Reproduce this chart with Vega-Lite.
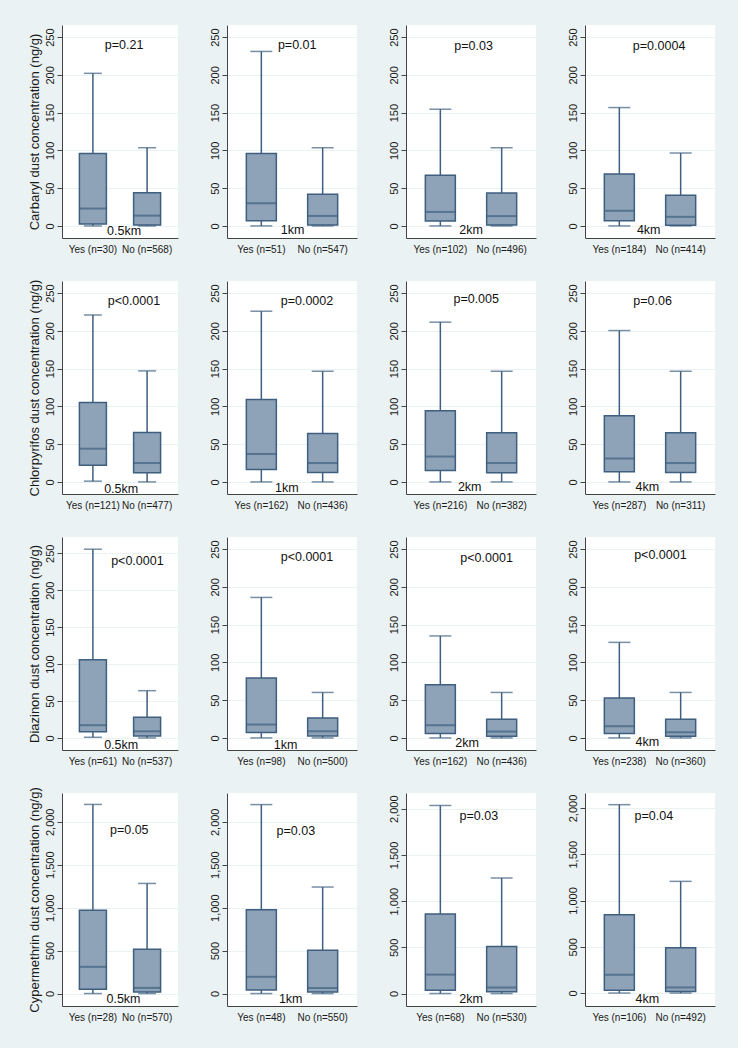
{
"$schema": "https://vega.github.io/schema/vega-lite/v6.json",
"background": "#eaf2f3",
"padding": {"left": 27, "top": 25, "right": 24, "bottom": 26},
"config": {
 "view": {"stroke": null, "fill": "white"},
 "font": "Liberation Sans",
 "axis": {"labelFont": "Liberation Sans", "labelFontSize": 11, "labelColor": "#1a1a1a", "titleFont": "Liberation Sans", "titleFontSize": 13, "titleFontWeight": "normal", "titleColor": "#1a1a1a", "domainColor": "#444444", "tickColor": "#444444", "gridColor": "#eaf2f3", "gridWidth": 1},
 "axisY": {"labelAngle": -90, "labelAlign": "center", "labelBaseline": "bottom", "tickSize": 5, "labelPadding": 2, "grid": true, "titlePadding": 3},
 "axisX": {"ticks": false, "grid": false, "labelAngle": 0, "labelPadding": 6, "labelFontSize": 10}
},
"datasets": {
 "boxes": [
  {"r": "Carbaryl", "d": "0.5km", "g": "Yes (n=30)", "low": 0, "q1": 2.6, "med": 23, "q3": 96, "high": 202},
  {"r": "Carbaryl", "d": "0.5km", "g": "No (n=568)", "low": 0, "q1": 1.3, "med": 13.6, "q3": 44, "high": 103.5},
  {"r": "Carbaryl", "d": "1km", "g": "Yes (n=51)", "low": 0, "q1": 7, "med": 30, "q3": 96, "high": 231},
  {"r": "Carbaryl", "d": "1km", "g": "No (n=547)", "low": 0, "q1": 1.3, "med": 13.2, "q3": 42, "high": 103.5},
  {"r": "Carbaryl", "d": "2km", "g": "Yes (n=102)", "low": 0, "q1": 6.6, "med": 18.5, "q3": 67, "high": 154.5},
  {"r": "Carbaryl", "d": "2km", "g": "No (n=496)", "low": 0, "q1": 1.3, "med": 13, "q3": 43.6, "high": 103.5},
  {"r": "Carbaryl", "d": "4km", "g": "Yes (n=184)", "low": 0, "q1": 7, "med": 20, "q3": 68.7, "high": 156.7},
  {"r": "Carbaryl", "d": "4km", "g": "No (n=414)", "low": 0, "q1": 0.9, "med": 12, "q3": 40.5, "high": 96.5},
  {"r": "Chlorpyrifos", "d": "0.5km", "g": "Yes (n=121)", "low": 1, "q1": 22, "med": 44, "q3": 105, "high": 221},
  {"r": "Chlorpyrifos", "d": "0.5km", "g": "No (n=477)", "low": 0, "q1": 12, "med": 25, "q3": 65.5, "high": 147},
  {"r": "Chlorpyrifos", "d": "1km", "g": "Yes (n=162)", "low": 0, "q1": 16.4, "med": 37, "q3": 109, "high": 226},
  {"r": "Chlorpyrifos", "d": "1km", "g": "No (n=436)", "low": 0, "q1": 12.4, "med": 25, "q3": 64.2, "high": 146.5},
  {"r": "Chlorpyrifos", "d": "2km", "g": "Yes (n=216)", "low": 0, "q1": 15, "med": 33.6, "q3": 94.2, "high": 211.5},
  {"r": "Chlorpyrifos", "d": "2km", "g": "No (n=382)", "low": 0, "q1": 12, "med": 25, "q3": 65, "high": 146.5},
  {"r": "Chlorpyrifos", "d": "4km", "g": "Yes (n=287)", "low": 0, "q1": 13.3, "med": 31, "q3": 87.6, "high": 200.4},
  {"r": "Chlorpyrifos", "d": "4km", "g": "No (n=311)", "low": 0, "q1": 12.4, "med": 25, "q3": 65, "high": 146.5},
  {"r": "Diazinon", "d": "0.5km", "g": "Yes (n=61)", "low": 0.9, "q1": 8.3, "med": 17.3, "q3": 106, "high": 255.5},
  {"r": "Diazinon", "d": "0.5km", "g": "No (n=537)", "low": 0, "q1": 2.7, "med": 9, "q3": 28, "high": 64},
  {"r": "Diazinon", "d": "1km", "g": "Yes (n=98)", "low": 0, "q1": 7.1, "med": 17.7, "q3": 79.2, "high": 186},
  {"r": "Diazinon", "d": "1km", "g": "No (n=500)", "low": 0, "q1": 2.7, "med": 8.8, "q3": 26.5, "high": 60.2},
  {"r": "Diazinon", "d": "2km", "g": "Yes (n=162)", "low": 0, "q1": 5.8, "med": 16.8, "q3": 70.4, "high": 135},
  {"r": "Diazinon", "d": "2km", "g": "No (n=436)", "low": 0, "q1": 2.2, "med": 8.4, "q3": 24.8, "high": 60.2},
  {"r": "Diazinon", "d": "4km", "g": "Yes (n=238)", "low": 0, "q1": 5.8, "med": 15.5, "q3": 52.7, "high": 126.5},
  {"r": "Diazinon", "d": "4km", "g": "No (n=360)", "low": 0, "q1": 2.2, "med": 7.5, "q3": 24.8, "high": 60.2},
  {"r": "Cypermethrin", "d": "0.5km", "g": "Yes (n=28)", "low": 0, "q1": 50, "med": 311, "q3": 971, "high": 2202},
  {"r": "Cypermethrin", "d": "0.5km", "g": "No (n=570)", "low": 0, "q1": 19, "med": 66, "q3": 516, "high": 1282},
  {"r": "Cypermethrin", "d": "1km", "g": "Yes (n=48)", "low": 0, "q1": 40, "med": 195, "q3": 975, "high": 2200},
  {"r": "Cypermethrin", "d": "1km", "g": "No (n=550)", "low": 0, "q1": 18, "med": 65, "q3": 505, "high": 1240},
  {"r": "Cypermethrin", "d": "2km", "g": "Yes (n=68)", "low": 0, "q1": 35, "med": 205, "q3": 860, "high": 2035},
  {"r": "Cypermethrin", "d": "2km", "g": "No (n=530)", "low": 0, "q1": 18, "med": 65, "q3": 510, "high": 1250},
  {"r": "Cypermethrin", "d": "4km", "g": "Yes (n=106)", "low": 0, "q1": 29, "med": 198, "q3": 847, "high": 2036},
  {"r": "Cypermethrin", "d": "4km", "g": "No (n=492)", "low": 0, "q1": 18, "med": 61, "q3": 490, "high": 1207}
 ],
 "notes": [
  {"r": "Carbaryl", "d": "0.5km", "t": "p=0.21", "xf": 0.535, "yv": 239},
  {"r": "Carbaryl", "d": "0.5km", "t": "0.5km", "xf": 0.535, "yv": -6.6},
  {"r": "Carbaryl", "d": "1km", "t": "p=0.01", "xf": 0.54, "yv": 239},
  {"r": "Carbaryl", "d": "1km", "t": "1km", "xf": 0.505, "yv": -5.3},
  {"r": "Carbaryl", "d": "2km", "t": "p=0.03", "xf": 0.52, "yv": 238},
  {"r": "Carbaryl", "d": "2km", "t": "2km", "xf": 0.5, "yv": -6},
  {"r": "Carbaryl", "d": "4km", "t": "p=0.0004", "xf": 0.57, "yv": 237.7},
  {"r": "Carbaryl", "d": "4km", "t": "4km", "xf": 0.49, "yv": -5.3},
  {"r": "Chlorpyrifos", "d": "0.5km", "t": "p<0.0001", "xf": 0.62, "yv": 239},
  {"r": "Chlorpyrifos", "d": "0.5km", "t": "0.5km", "xf": 0.51, "yv": -8.8},
  {"r": "Chlorpyrifos", "d": "1km", "t": "p=0.0002", "xf": 0.615, "yv": 240},
  {"r": "Chlorpyrifos", "d": "1km", "t": "1km", "xf": 0.46, "yv": -8},
  {"r": "Chlorpyrifos", "d": "2km", "t": "p=0.005", "xf": 0.54, "yv": 242},
  {"r": "Chlorpyrifos", "d": "2km", "t": "2km", "xf": 0.49, "yv": -7},
  {"r": "Chlorpyrifos", "d": "4km", "t": "p=0.06", "xf": 0.52, "yv": 240},
  {"r": "Chlorpyrifos", "d": "4km", "t": "4km", "xf": 0.48, "yv": -7},
  {"r": "Diazinon", "d": "0.5km", "t": "p<0.0001", "xf": 0.65, "yv": 240},
  {"r": "Diazinon", "d": "0.5km", "t": "0.5km", "xf": 0.51, "yv": -9.5},
  {"r": "Diazinon", "d": "1km", "t": "p<0.0001", "xf": 0.615, "yv": 240},
  {"r": "Diazinon", "d": "1km", "t": "1km", "xf": 0.45, "yv": -10},
  {"r": "Diazinon", "d": "2km", "t": "p<0.0001", "xf": 0.62, "yv": 237.6},
  {"r": "Diazinon", "d": "2km", "t": "2km", "xf": 0.47, "yv": -6.6},
  {"r": "Diazinon", "d": "4km", "t": "p<0.0001", "xf": 0.58, "yv": 242},
  {"r": "Diazinon", "d": "4km", "t": "4km", "xf": 0.48, "yv": -5.8},
  {"r": "Cypermethrin", "d": "0.5km", "t": "p=0.05", "xf": 0.58, "yv": 1903},
  {"r": "Cypermethrin", "d": "0.5km", "t": "0.5km", "xf": 0.53, "yv": -58},
  {"r": "Cypermethrin", "d": "1km", "t": "p=0.03", "xf": 0.53, "yv": 1888},
  {"r": "Cypermethrin", "d": "1km", "t": "1km", "xf": 0.49, "yv": -60},
  {"r": "Cypermethrin", "d": "2km", "t": "p=0.03", "xf": 0.56, "yv": 1925},
  {"r": "Cypermethrin", "d": "2km", "t": "2km", "xf": 0.5, "yv": -60},
  {"r": "Cypermethrin", "d": "4km", "t": "p=0.04", "xf": 0.53, "yv": 1910},
  {"r": "Cypermethrin", "d": "4km", "t": "4km", "xf": 0.48, "yv": -61}
 ]
},
"columns": 4,
"spacing": {"row": 43, "column": 49},
"bounds": "flush",
"concat": [
 {"width": 116, "height": 213, "resolve": {"scale": {"x": "independent"}}, "layer": [
  {"data": {"name": "boxes"}, "transform": [{"filter": "datum.r=='Carbaryl' && datum.d=='0.5km'"}],
   "encoding": {"x": {"field": "g", "type": "nominal", "sort": "descending", "title": null, "scale": {"paddingInner": 0, "paddingOuter": 0.07}}},
   "layer": [
    {"mark": {"type": "rule", "color": "#3e5f7f", "strokeWidth": 1.5}, "encoding": {"y": {"field": "low", "type": "quantitative", "title": "Carbaryl dust concentration (ng/g)", "scale": {"domain": [-16, 266], "nice": false, "zero": false}, "axis": {"values": [0, 50, 100, 150, 200, 250]}}, "y2": {"field": "high"}}},
    {"mark": {"type": "bar", "width": 27, "fill": "#8ea3b8", "stroke": "#3e5f7f", "strokeWidth": 1.5}, "encoding": {"y": {"field": "q1", "type": "quantitative", "title": "Carbaryl dust concentration (ng/g)"}, "y2": {"field": "q3"}}},
    {"mark": {"type": "tick", "size": 27, "thickness": 2, "color": "#3e5f7f"}, "encoding": {"y": {"field": "med", "type": "quantitative", "title": "Carbaryl dust concentration (ng/g)"}}},
    {"mark": {"type": "tick", "size": 18, "thickness": 1.5, "color": "#3e5f7f"}, "encoding": {"y": {"field": "low", "type": "quantitative", "title": "Carbaryl dust concentration (ng/g)"}}},
    {"mark": {"type": "tick", "size": 18, "thickness": 1.5, "color": "#3e5f7f"}, "encoding": {"y": {"field": "high", "type": "quantitative", "title": "Carbaryl dust concentration (ng/g)"}}}
   ]},
  {"data": {"name": "notes"}, "transform": [{"filter": "datum.r=='Carbaryl' && datum.d=='0.5km'"}],
   "mark": {"type": "text", "fontSize": 12.5, "font": "Liberation Sans", "color": "#111111"},
   "encoding": {"x": {"field": "xf", "type": "quantitative", "scale": {"domain": [0, 1], "nice": false, "zero": false}, "axis": null}, "y": {"field": "yv", "type": "quantitative", "title": "Carbaryl dust concentration (ng/g)"}, "text": {"field": "t"}}}
 ]},
 {"width": 130, "height": 213, "resolve": {"scale": {"x": "independent"}}, "layer": [
  {"data": {"name": "boxes"}, "transform": [{"filter": "datum.r=='Carbaryl' && datum.d=='1km'"}],
   "encoding": {"x": {"field": "g", "type": "nominal", "sort": "descending", "title": null, "scale": {"paddingInner": 0, "paddingOuter": 0.06}}},
   "layer": [
    {"mark": {"type": "rule", "color": "#3e5f7f", "strokeWidth": 1.5}, "encoding": {"y": {"field": "low", "type": "quantitative", "title": null, "scale": {"domain": [-16, 266], "nice": false, "zero": false}, "axis": {"values": [0, 50, 100, 150, 200, 250]}}, "y2": {"field": "high"}}},
    {"mark": {"type": "bar", "width": 30, "fill": "#8ea3b8", "stroke": "#3e5f7f", "strokeWidth": 1.5}, "encoding": {"y": {"field": "q1", "type": "quantitative", "title": null}, "y2": {"field": "q3"}}},
    {"mark": {"type": "tick", "size": 30, "thickness": 2, "color": "#3e5f7f"}, "encoding": {"y": {"field": "med", "type": "quantitative", "title": null}}},
    {"mark": {"type": "tick", "size": 22, "thickness": 1.5, "color": "#3e5f7f"}, "encoding": {"y": {"field": "low", "type": "quantitative", "title": null}}},
    {"mark": {"type": "tick", "size": 22, "thickness": 1.5, "color": "#3e5f7f"}, "encoding": {"y": {"field": "high", "type": "quantitative", "title": null}}}
   ]},
  {"data": {"name": "notes"}, "transform": [{"filter": "datum.r=='Carbaryl' && datum.d=='1km'"}],
   "mark": {"type": "text", "fontSize": 12.5, "font": "Liberation Sans", "color": "#111111"},
   "encoding": {"x": {"field": "xf", "type": "quantitative", "scale": {"domain": [0, 1], "nice": false, "zero": false}, "axis": null}, "y": {"field": "yv", "type": "quantitative", "title": null}, "text": {"field": "t"}}}
 ]},
 {"width": 130, "height": 213, "resolve": {"scale": {"x": "independent"}}, "layer": [
  {"data": {"name": "boxes"}, "transform": [{"filter": "datum.r=='Carbaryl' && datum.d=='2km'"}],
   "encoding": {"x": {"field": "g", "type": "nominal", "sort": "descending", "title": null, "scale": {"paddingInner": 0, "paddingOuter": 0.06}}},
   "layer": [
    {"mark": {"type": "rule", "color": "#3e5f7f", "strokeWidth": 1.5}, "encoding": {"y": {"field": "low", "type": "quantitative", "title": null, "scale": {"domain": [-16, 266], "nice": false, "zero": false}, "axis": {"values": [0, 50, 100, 150, 200, 250]}}, "y2": {"field": "high"}}},
    {"mark": {"type": "bar", "width": 30, "fill": "#8ea3b8", "stroke": "#3e5f7f", "strokeWidth": 1.5}, "encoding": {"y": {"field": "q1", "type": "quantitative", "title": null}, "y2": {"field": "q3"}}},
    {"mark": {"type": "tick", "size": 30, "thickness": 2, "color": "#3e5f7f"}, "encoding": {"y": {"field": "med", "type": "quantitative", "title": null}}},
    {"mark": {"type": "tick", "size": 22, "thickness": 1.5, "color": "#3e5f7f"}, "encoding": {"y": {"field": "low", "type": "quantitative", "title": null}}},
    {"mark": {"type": "tick", "size": 22, "thickness": 1.5, "color": "#3e5f7f"}, "encoding": {"y": {"field": "high", "type": "quantitative", "title": null}}}
   ]},
  {"data": {"name": "notes"}, "transform": [{"filter": "datum.r=='Carbaryl' && datum.d=='2km'"}],
   "mark": {"type": "text", "fontSize": 12.5, "font": "Liberation Sans", "color": "#111111"},
   "encoding": {"x": {"field": "xf", "type": "quantitative", "scale": {"domain": [0, 1], "nice": false, "zero": false}, "axis": null}, "y": {"field": "yv", "type": "quantitative", "title": null}, "text": {"field": "t"}}}
 ]},
 {"width": 130, "height": 213, "resolve": {"scale": {"x": "independent"}}, "layer": [
  {"data": {"name": "boxes"}, "transform": [{"filter": "datum.r=='Carbaryl' && datum.d=='4km'"}],
   "encoding": {"x": {"field": "g", "type": "nominal", "sort": "descending", "title": null, "scale": {"paddingInner": 0, "paddingOuter": 0.06}}},
   "layer": [
    {"mark": {"type": "rule", "color": "#3e5f7f", "strokeWidth": 1.5}, "encoding": {"y": {"field": "low", "type": "quantitative", "title": null, "scale": {"domain": [-16, 266], "nice": false, "zero": false}, "axis": {"values": [0, 50, 100, 150, 200, 250]}}, "y2": {"field": "high"}}},
    {"mark": {"type": "bar", "width": 30, "fill": "#8ea3b8", "stroke": "#3e5f7f", "strokeWidth": 1.5}, "encoding": {"y": {"field": "q1", "type": "quantitative", "title": null}, "y2": {"field": "q3"}}},
    {"mark": {"type": "tick", "size": 30, "thickness": 2, "color": "#3e5f7f"}, "encoding": {"y": {"field": "med", "type": "quantitative", "title": null}}},
    {"mark": {"type": "tick", "size": 22, "thickness": 1.5, "color": "#3e5f7f"}, "encoding": {"y": {"field": "low", "type": "quantitative", "title": null}}},
    {"mark": {"type": "tick", "size": 22, "thickness": 1.5, "color": "#3e5f7f"}, "encoding": {"y": {"field": "high", "type": "quantitative", "title": null}}}
   ]},
  {"data": {"name": "notes"}, "transform": [{"filter": "datum.r=='Carbaryl' && datum.d=='4km'"}],
   "mark": {"type": "text", "fontSize": 12.5, "font": "Liberation Sans", "color": "#111111"},
   "encoding": {"x": {"field": "xf", "type": "quantitative", "scale": {"domain": [0, 1], "nice": false, "zero": false}, "axis": null}, "y": {"field": "yv", "type": "quantitative", "title": null}, "text": {"field": "t"}}}
 ]},

 {"width": 116, "height": 213, "resolve": {"scale": {"x": "independent"}}, "layer": [
  {"data": {"name": "boxes"}, "transform": [{"filter": "datum.r=='Chlorpyrifos' && datum.d=='0.5km'"}],
   "encoding": {"x": {"field": "g", "type": "nominal", "sort": "descending", "title": null, "scale": {"paddingInner": 0, "paddingOuter": 0.07}}},
   "layer": [
    {"mark": {"type": "rule", "color": "#3e5f7f", "strokeWidth": 1.5}, "encoding": {"y": {"field": "low", "type": "quantitative", "title": "Chlorpyrifos dust concentration (ng/g)", "scale": {"domain": [-16, 266], "nice": false, "zero": false}, "axis": {"values": [0, 50, 100, 150, 200, 250]}}, "y2": {"field": "high"}}},
    {"mark": {"type": "bar", "width": 27, "fill": "#8ea3b8", "stroke": "#3e5f7f", "strokeWidth": 1.5}, "encoding": {"y": {"field": "q1", "type": "quantitative", "title": "Chlorpyrifos dust concentration (ng/g)"}, "y2": {"field": "q3"}}},
    {"mark": {"type": "tick", "size": 27, "thickness": 2, "color": "#3e5f7f"}, "encoding": {"y": {"field": "med", "type": "quantitative", "title": "Chlorpyrifos dust concentration (ng/g)"}}},
    {"mark": {"type": "tick", "size": 18, "thickness": 1.5, "color": "#3e5f7f"}, "encoding": {"y": {"field": "low", "type": "quantitative", "title": "Chlorpyrifos dust concentration (ng/g)"}}},
    {"mark": {"type": "tick", "size": 18, "thickness": 1.5, "color": "#3e5f7f"}, "encoding": {"y": {"field": "high", "type": "quantitative", "title": "Chlorpyrifos dust concentration (ng/g)"}}}
   ]},
  {"data": {"name": "notes"}, "transform": [{"filter": "datum.r=='Chlorpyrifos' && datum.d=='0.5km'"}],
   "mark": {"type": "text", "fontSize": 12.5, "font": "Liberation Sans", "color": "#111111"},
   "encoding": {"x": {"field": "xf", "type": "quantitative", "scale": {"domain": [0, 1], "nice": false, "zero": false}, "axis": null}, "y": {"field": "yv", "type": "quantitative", "title": "Chlorpyrifos dust concentration (ng/g)"}, "text": {"field": "t"}}}
 ]},
 {"width": 130, "height": 213, "resolve": {"scale": {"x": "independent"}}, "layer": [
  {"data": {"name": "boxes"}, "transform": [{"filter": "datum.r=='Chlorpyrifos' && datum.d=='1km'"}],
   "encoding": {"x": {"field": "g", "type": "nominal", "sort": "descending", "title": null, "scale": {"paddingInner": 0, "paddingOuter": 0.06}}},
   "layer": [
    {"mark": {"type": "rule", "color": "#3e5f7f", "strokeWidth": 1.5}, "encoding": {"y": {"field": "low", "type": "quantitative", "title": null, "scale": {"domain": [-16, 266], "nice": false, "zero": false}, "axis": {"values": [0, 50, 100, 150, 200, 250]}}, "y2": {"field": "high"}}},
    {"mark": {"type": "bar", "width": 30, "fill": "#8ea3b8", "stroke": "#3e5f7f", "strokeWidth": 1.5}, "encoding": {"y": {"field": "q1", "type": "quantitative", "title": null}, "y2": {"field": "q3"}}},
    {"mark": {"type": "tick", "size": 30, "thickness": 2, "color": "#3e5f7f"}, "encoding": {"y": {"field": "med", "type": "quantitative", "title": null}}},
    {"mark": {"type": "tick", "size": 22, "thickness": 1.5, "color": "#3e5f7f"}, "encoding": {"y": {"field": "low", "type": "quantitative", "title": null}}},
    {"mark": {"type": "tick", "size": 22, "thickness": 1.5, "color": "#3e5f7f"}, "encoding": {"y": {"field": "high", "type": "quantitative", "title": null}}}
   ]},
  {"data": {"name": "notes"}, "transform": [{"filter": "datum.r=='Chlorpyrifos' && datum.d=='1km'"}],
   "mark": {"type": "text", "fontSize": 12.5, "font": "Liberation Sans", "color": "#111111"},
   "encoding": {"x": {"field": "xf", "type": "quantitative", "scale": {"domain": [0, 1], "nice": false, "zero": false}, "axis": null}, "y": {"field": "yv", "type": "quantitative", "title": null}, "text": {"field": "t"}}}
 ]},
 {"width": 130, "height": 213, "resolve": {"scale": {"x": "independent"}}, "layer": [
  {"data": {"name": "boxes"}, "transform": [{"filter": "datum.r=='Chlorpyrifos' && datum.d=='2km'"}],
   "encoding": {"x": {"field": "g", "type": "nominal", "sort": "descending", "title": null, "scale": {"paddingInner": 0, "paddingOuter": 0.06}}},
   "layer": [
    {"mark": {"type": "rule", "color": "#3e5f7f", "strokeWidth": 1.5}, "encoding": {"y": {"field": "low", "type": "quantitative", "title": null, "scale": {"domain": [-16, 266], "nice": false, "zero": false}, "axis": {"values": [0, 50, 100, 150, 200, 250]}}, "y2": {"field": "high"}}},
    {"mark": {"type": "bar", "width": 30, "fill": "#8ea3b8", "stroke": "#3e5f7f", "strokeWidth": 1.5}, "encoding": {"y": {"field": "q1", "type": "quantitative", "title": null}, "y2": {"field": "q3"}}},
    {"mark": {"type": "tick", "size": 30, "thickness": 2, "color": "#3e5f7f"}, "encoding": {"y": {"field": "med", "type": "quantitative", "title": null}}},
    {"mark": {"type": "tick", "size": 22, "thickness": 1.5, "color": "#3e5f7f"}, "encoding": {"y": {"field": "low", "type": "quantitative", "title": null}}},
    {"mark": {"type": "tick", "size": 22, "thickness": 1.5, "color": "#3e5f7f"}, "encoding": {"y": {"field": "high", "type": "quantitative", "title": null}}}
   ]},
  {"data": {"name": "notes"}, "transform": [{"filter": "datum.r=='Chlorpyrifos' && datum.d=='2km'"}],
   "mark": {"type": "text", "fontSize": 12.5, "font": "Liberation Sans", "color": "#111111"},
   "encoding": {"x": {"field": "xf", "type": "quantitative", "scale": {"domain": [0, 1], "nice": false, "zero": false}, "axis": null}, "y": {"field": "yv", "type": "quantitative", "title": null}, "text": {"field": "t"}}}
 ]},
 {"width": 130, "height": 213, "resolve": {"scale": {"x": "independent"}}, "layer": [
  {"data": {"name": "boxes"}, "transform": [{"filter": "datum.r=='Chlorpyrifos' && datum.d=='4km'"}],
   "encoding": {"x": {"field": "g", "type": "nominal", "sort": "descending", "title": null, "scale": {"paddingInner": 0, "paddingOuter": 0.06}}},
   "layer": [
    {"mark": {"type": "rule", "color": "#3e5f7f", "strokeWidth": 1.5}, "encoding": {"y": {"field": "low", "type": "quantitative", "title": null, "scale": {"domain": [-16, 266], "nice": false, "zero": false}, "axis": {"values": [0, 50, 100, 150, 200, 250]}}, "y2": {"field": "high"}}},
    {"mark": {"type": "bar", "width": 30, "fill": "#8ea3b8", "stroke": "#3e5f7f", "strokeWidth": 1.5}, "encoding": {"y": {"field": "q1", "type": "quantitative", "title": null}, "y2": {"field": "q3"}}},
    {"mark": {"type": "tick", "size": 30, "thickness": 2, "color": "#3e5f7f"}, "encoding": {"y": {"field": "med", "type": "quantitative", "title": null}}},
    {"mark": {"type": "tick", "size": 22, "thickness": 1.5, "color": "#3e5f7f"}, "encoding": {"y": {"field": "low", "type": "quantitative", "title": null}}},
    {"mark": {"type": "tick", "size": 22, "thickness": 1.5, "color": "#3e5f7f"}, "encoding": {"y": {"field": "high", "type": "quantitative", "title": null}}}
   ]},
  {"data": {"name": "notes"}, "transform": [{"filter": "datum.r=='Chlorpyrifos' && datum.d=='4km'"}],
   "mark": {"type": "text", "fontSize": 12.5, "font": "Liberation Sans", "color": "#111111"},
   "encoding": {"x": {"field": "xf", "type": "quantitative", "scale": {"domain": [0, 1], "nice": false, "zero": false}, "axis": null}, "y": {"field": "yv", "type": "quantitative", "title": null}, "text": {"field": "t"}}}
 ]},

 {"width": 116, "height": 213, "resolve": {"scale": {"x": "independent"}}, "layer": [
  {"data": {"name": "boxes"}, "transform": [{"filter": "datum.r=='Diazinon' && datum.d=='0.5km'"}],
   "encoding": {"x": {"field": "g", "type": "nominal", "sort": "descending", "title": null, "scale": {"paddingInner": 0, "paddingOuter": 0.07}}},
   "layer": [
    {"mark": {"type": "rule", "color": "#3e5f7f", "strokeWidth": 1.5}, "encoding": {"y": {"field": "low", "type": "quantitative", "title": "Diazinon dust concentration (ng/g)", "scale": {"domain": [-16.3, 272], "nice": false, "zero": false}, "axis": {"values": [0, 50, 100, 150, 200, 250]}}, "y2": {"field": "high"}}},
    {"mark": {"type": "bar", "width": 27, "fill": "#8ea3b8", "stroke": "#3e5f7f", "strokeWidth": 1.5}, "encoding": {"y": {"field": "q1", "type": "quantitative", "title": "Diazinon dust concentration (ng/g)"}, "y2": {"field": "q3"}}},
    {"mark": {"type": "tick", "size": 27, "thickness": 2, "color": "#3e5f7f"}, "encoding": {"y": {"field": "med", "type": "quantitative", "title": "Diazinon dust concentration (ng/g)"}}},
    {"mark": {"type": "tick", "size": 18, "thickness": 1.5, "color": "#3e5f7f"}, "encoding": {"y": {"field": "low", "type": "quantitative", "title": "Diazinon dust concentration (ng/g)"}}},
    {"mark": {"type": "tick", "size": 18, "thickness": 1.5, "color": "#3e5f7f"}, "encoding": {"y": {"field": "high", "type": "quantitative", "title": "Diazinon dust concentration (ng/g)"}}}
   ]},
  {"data": {"name": "notes"}, "transform": [{"filter": "datum.r=='Diazinon' && datum.d=='0.5km'"}],
   "mark": {"type": "text", "fontSize": 12.5, "font": "Liberation Sans", "color": "#111111"},
   "encoding": {"x": {"field": "xf", "type": "quantitative", "scale": {"domain": [0, 1], "nice": false, "zero": false}, "axis": null}, "y": {"field": "yv", "type": "quantitative", "title": "Diazinon dust concentration (ng/g)"}, "text": {"field": "t"}}}
 ]},
 {"width": 130, "height": 213, "resolve": {"scale": {"x": "independent"}}, "layer": [
  {"data": {"name": "boxes"}, "transform": [{"filter": "datum.r=='Diazinon' && datum.d=='1km'"}],
   "encoding": {"x": {"field": "g", "type": "nominal", "sort": "descending", "title": null, "scale": {"paddingInner": 0, "paddingOuter": 0.06}}},
   "layer": [
    {"mark": {"type": "rule", "color": "#3e5f7f", "strokeWidth": 1.5}, "encoding": {"y": {"field": "low", "type": "quantitative", "title": null, "scale": {"domain": [-16, 266], "nice": false, "zero": false}, "axis": {"values": [0, 50, 100, 150, 200, 250]}}, "y2": {"field": "high"}}},
    {"mark": {"type": "bar", "width": 30, "fill": "#8ea3b8", "stroke": "#3e5f7f", "strokeWidth": 1.5}, "encoding": {"y": {"field": "q1", "type": "quantitative", "title": null}, "y2": {"field": "q3"}}},
    {"mark": {"type": "tick", "size": 30, "thickness": 2, "color": "#3e5f7f"}, "encoding": {"y": {"field": "med", "type": "quantitative", "title": null}}},
    {"mark": {"type": "tick", "size": 22, "thickness": 1.5, "color": "#3e5f7f"}, "encoding": {"y": {"field": "low", "type": "quantitative", "title": null}}},
    {"mark": {"type": "tick", "size": 22, "thickness": 1.5, "color": "#3e5f7f"}, "encoding": {"y": {"field": "high", "type": "quantitative", "title": null}}}
   ]},
  {"data": {"name": "notes"}, "transform": [{"filter": "datum.r=='Diazinon' && datum.d=='1km'"}],
   "mark": {"type": "text", "fontSize": 12.5, "font": "Liberation Sans", "color": "#111111"},
   "encoding": {"x": {"field": "xf", "type": "quantitative", "scale": {"domain": [0, 1], "nice": false, "zero": false}, "axis": null}, "y": {"field": "yv", "type": "quantitative", "title": null}, "text": {"field": "t"}}}
 ]},
 {"width": 130, "height": 213, "resolve": {"scale": {"x": "independent"}}, "layer": [
  {"data": {"name": "boxes"}, "transform": [{"filter": "datum.r=='Diazinon' && datum.d=='2km'"}],
   "encoding": {"x": {"field": "g", "type": "nominal", "sort": "descending", "title": null, "scale": {"paddingInner": 0, "paddingOuter": 0.06}}},
   "layer": [
    {"mark": {"type": "rule", "color": "#3e5f7f", "strokeWidth": 1.5}, "encoding": {"y": {"field": "low", "type": "quantitative", "title": null, "scale": {"domain": [-16, 266], "nice": false, "zero": false}, "axis": {"values": [0, 50, 100, 150, 200, 250]}}, "y2": {"field": "high"}}},
    {"mark": {"type": "bar", "width": 30, "fill": "#8ea3b8", "stroke": "#3e5f7f", "strokeWidth": 1.5}, "encoding": {"y": {"field": "q1", "type": "quantitative", "title": null}, "y2": {"field": "q3"}}},
    {"mark": {"type": "tick", "size": 30, "thickness": 2, "color": "#3e5f7f"}, "encoding": {"y": {"field": "med", "type": "quantitative", "title": null}}},
    {"mark": {"type": "tick", "size": 22, "thickness": 1.5, "color": "#3e5f7f"}, "encoding": {"y": {"field": "low", "type": "quantitative", "title": null}}},
    {"mark": {"type": "tick", "size": 22, "thickness": 1.5, "color": "#3e5f7f"}, "encoding": {"y": {"field": "high", "type": "quantitative", "title": null}}}
   ]},
  {"data": {"name": "notes"}, "transform": [{"filter": "datum.r=='Diazinon' && datum.d=='2km'"}],
   "mark": {"type": "text", "fontSize": 12.5, "font": "Liberation Sans", "color": "#111111"},
   "encoding": {"x": {"field": "xf", "type": "quantitative", "scale": {"domain": [0, 1], "nice": false, "zero": false}, "axis": null}, "y": {"field": "yv", "type": "quantitative", "title": null}, "text": {"field": "t"}}}
 ]},
 {"width": 130, "height": 213, "resolve": {"scale": {"x": "independent"}}, "layer": [
  {"data": {"name": "boxes"}, "transform": [{"filter": "datum.r=='Diazinon' && datum.d=='4km'"}],
   "encoding": {"x": {"field": "g", "type": "nominal", "sort": "descending", "title": null, "scale": {"paddingInner": 0, "paddingOuter": 0.06}}},
   "layer": [
    {"mark": {"type": "rule", "color": "#3e5f7f", "strokeWidth": 1.5}, "encoding": {"y": {"field": "low", "type": "quantitative", "title": null, "scale": {"domain": [-16, 266], "nice": false, "zero": false}, "axis": {"values": [0, 50, 100, 150, 200, 250]}}, "y2": {"field": "high"}}},
    {"mark": {"type": "bar", "width": 30, "fill": "#8ea3b8", "stroke": "#3e5f7f", "strokeWidth": 1.5}, "encoding": {"y": {"field": "q1", "type": "quantitative", "title": null}, "y2": {"field": "q3"}}},
    {"mark": {"type": "tick", "size": 30, "thickness": 2, "color": "#3e5f7f"}, "encoding": {"y": {"field": "med", "type": "quantitative", "title": null}}},
    {"mark": {"type": "tick", "size": 22, "thickness": 1.5, "color": "#3e5f7f"}, "encoding": {"y": {"field": "low", "type": "quantitative", "title": null}}},
    {"mark": {"type": "tick", "size": 22, "thickness": 1.5, "color": "#3e5f7f"}, "encoding": {"y": {"field": "high", "type": "quantitative", "title": null}}}
   ]},
  {"data": {"name": "notes"}, "transform": [{"filter": "datum.r=='Diazinon' && datum.d=='4km'"}],
   "mark": {"type": "text", "fontSize": 12.5, "font": "Liberation Sans", "color": "#111111"},
   "encoding": {"x": {"field": "xf", "type": "quantitative", "scale": {"domain": [0, 1], "nice": false, "zero": false}, "axis": null}, "y": {"field": "yv", "type": "quantitative", "title": null}, "text": {"field": "t"}}}
 ]},

 {"width": 116, "height": 213, "resolve": {"scale": {"x": "independent"}}, "layer": [
  {"data": {"name": "boxes"}, "transform": [{"filter": "datum.r=='Cypermethrin' && datum.d=='0.5km'"}],
   "encoding": {"x": {"field": "g", "type": "nominal", "sort": "descending", "title": null, "scale": {"paddingInner": 0, "paddingOuter": 0.07}}},
   "layer": [
    {"mark": {"type": "rule", "color": "#3e5f7f", "strokeWidth": 1.5}, "encoding": {"y": {"field": "low", "type": "quantitative", "title": "Cypermethrin dust concentration (ng/g)", "scale": {"domain": [-145, 2335], "nice": false, "zero": false}, "axis": {"values": [0, 500, 1000, 1500, 2000], "format": ",.0f"}}, "y2": {"field": "high"}}},
    {"mark": {"type": "bar", "width": 27, "fill": "#8ea3b8", "stroke": "#3e5f7f", "strokeWidth": 1.5}, "encoding": {"y": {"field": "q1", "type": "quantitative", "title": "Cypermethrin dust concentration (ng/g)"}, "y2": {"field": "q3"}}},
    {"mark": {"type": "tick", "size": 27, "thickness": 2, "color": "#3e5f7f"}, "encoding": {"y": {"field": "med", "type": "quantitative", "title": "Cypermethrin dust concentration (ng/g)"}}},
    {"mark": {"type": "tick", "size": 18, "thickness": 1.5, "color": "#3e5f7f"}, "encoding": {"y": {"field": "low", "type": "quantitative", "title": "Cypermethrin dust concentration (ng/g)"}}},
    {"mark": {"type": "tick", "size": 18, "thickness": 1.5, "color": "#3e5f7f"}, "encoding": {"y": {"field": "high", "type": "quantitative", "title": "Cypermethrin dust concentration (ng/g)"}}}
   ]},
  {"data": {"name": "notes"}, "transform": [{"filter": "datum.r=='Cypermethrin' && datum.d=='0.5km'"}],
   "mark": {"type": "text", "fontSize": 12.5, "font": "Liberation Sans", "color": "#111111"},
   "encoding": {"x": {"field": "xf", "type": "quantitative", "scale": {"domain": [0, 1], "nice": false, "zero": false}, "axis": null}, "y": {"field": "yv", "type": "quantitative", "title": "Cypermethrin dust concentration (ng/g)"}, "text": {"field": "t"}}}
 ]},
 {"width": 130, "height": 213, "resolve": {"scale": {"x": "independent"}}, "layer": [
  {"data": {"name": "boxes"}, "transform": [{"filter": "datum.r=='Cypermethrin' && datum.d=='1km'"}],
   "encoding": {"x": {"field": "g", "type": "nominal", "sort": "descending", "title": null, "scale": {"paddingInner": 0, "paddingOuter": 0.06}}},
   "layer": [
    {"mark": {"type": "rule", "color": "#3e5f7f", "strokeWidth": 1.5}, "encoding": {"y": {"field": "low", "type": "quantitative", "title": null, "scale": {"domain": [-145, 2335], "nice": false, "zero": false}, "axis": {"values": [0, 500, 1000, 1500, 2000], "format": ",.0f"}}, "y2": {"field": "high"}}},
    {"mark": {"type": "bar", "width": 30, "fill": "#8ea3b8", "stroke": "#3e5f7f", "strokeWidth": 1.5}, "encoding": {"y": {"field": "q1", "type": "quantitative", "title": null}, "y2": {"field": "q3"}}},
    {"mark": {"type": "tick", "size": 30, "thickness": 2, "color": "#3e5f7f"}, "encoding": {"y": {"field": "med", "type": "quantitative", "title": null}}},
    {"mark": {"type": "tick", "size": 22, "thickness": 1.5, "color": "#3e5f7f"}, "encoding": {"y": {"field": "low", "type": "quantitative", "title": null}}},
    {"mark": {"type": "tick", "size": 22, "thickness": 1.5, "color": "#3e5f7f"}, "encoding": {"y": {"field": "high", "type": "quantitative", "title": null}}}
   ]},
  {"data": {"name": "notes"}, "transform": [{"filter": "datum.r=='Cypermethrin' && datum.d=='1km'"}],
   "mark": {"type": "text", "fontSize": 12.5, "font": "Liberation Sans", "color": "#111111"},
   "encoding": {"x": {"field": "xf", "type": "quantitative", "scale": {"domain": [0, 1], "nice": false, "zero": false}, "axis": null}, "y": {"field": "yv", "type": "quantitative", "title": null}, "text": {"field": "t"}}}
 ]},
 {"width": 130, "height": 213, "resolve": {"scale": {"x": "independent"}}, "layer": [
  {"data": {"name": "boxes"}, "transform": [{"filter": "datum.r=='Cypermethrin' && datum.d=='2km'"}],
   "encoding": {"x": {"field": "g", "type": "nominal", "sort": "descending", "title": null, "scale": {"paddingInner": 0, "paddingOuter": 0.06}}},
   "layer": [
    {"mark": {"type": "rule", "color": "#3e5f7f", "strokeWidth": 1.5}, "encoding": {"y": {"field": "low", "type": "quantitative", "title": null, "scale": {"domain": [-135, 2170], "nice": false, "zero": false}, "axis": {"values": [0, 500, 1000, 1500, 2000], "format": ",.0f"}}, "y2": {"field": "high"}}},
    {"mark": {"type": "bar", "width": 30, "fill": "#8ea3b8", "stroke": "#3e5f7f", "strokeWidth": 1.5}, "encoding": {"y": {"field": "q1", "type": "quantitative", "title": null}, "y2": {"field": "q3"}}},
    {"mark": {"type": "tick", "size": 30, "thickness": 2, "color": "#3e5f7f"}, "encoding": {"y": {"field": "med", "type": "quantitative", "title": null}}},
    {"mark": {"type": "tick", "size": 22, "thickness": 1.5, "color": "#3e5f7f"}, "encoding": {"y": {"field": "low", "type": "quantitative", "title": null}}},
    {"mark": {"type": "tick", "size": 22, "thickness": 1.5, "color": "#3e5f7f"}, "encoding": {"y": {"field": "high", "type": "quantitative", "title": null}}}
   ]},
  {"data": {"name": "notes"}, "transform": [{"filter": "datum.r=='Cypermethrin' && datum.d=='2km'"}],
   "mark": {"type": "text", "fontSize": 12.5, "font": "Liberation Sans", "color": "#111111"},
   "encoding": {"x": {"field": "xf", "type": "quantitative", "scale": {"domain": [0, 1], "nice": false, "zero": false}, "axis": null}, "y": {"field": "yv", "type": "quantitative", "title": null}, "text": {"field": "t"}}}
 ]},
 {"width": 130, "height": 213, "resolve": {"scale": {"x": "independent"}}, "layer": [
  {"data": {"name": "boxes"}, "transform": [{"filter": "datum.r=='Cypermethrin' && datum.d=='4km'"}],
   "encoding": {"x": {"field": "g", "type": "nominal", "sort": "descending", "title": null, "scale": {"paddingInner": 0, "paddingOuter": 0.06}}},
   "layer": [
    {"mark": {"type": "rule", "color": "#3e5f7f", "strokeWidth": 1.5}, "encoding": {"y": {"field": "low", "type": "quantitative", "title": null, "scale": {"domain": [-140, 2162], "nice": false, "zero": false}, "axis": {"values": [0, 500, 1000, 1500, 2000], "format": ",.0f"}}, "y2": {"field": "high"}}},
    {"mark": {"type": "bar", "width": 30, "fill": "#8ea3b8", "stroke": "#3e5f7f", "strokeWidth": 1.5}, "encoding": {"y": {"field": "q1", "type": "quantitative", "title": null}, "y2": {"field": "q3"}}},
    {"mark": {"type": "tick", "size": 30, "thickness": 2, "color": "#3e5f7f"}, "encoding": {"y": {"field": "med", "type": "quantitative", "title": null}}},
    {"mark": {"type": "tick", "size": 22, "thickness": 1.5, "color": "#3e5f7f"}, "encoding": {"y": {"field": "low", "type": "quantitative", "title": null}}},
    {"mark": {"type": "tick", "size": 22, "thickness": 1.5, "color": "#3e5f7f"}, "encoding": {"y": {"field": "high", "type": "quantitative", "title": null}}}
   ]},
  {"data": {"name": "notes"}, "transform": [{"filter": "datum.r=='Cypermethrin' && datum.d=='4km'"}],
   "mark": {"type": "text", "fontSize": 12.5, "font": "Liberation Sans", "color": "#111111"},
   "encoding": {"x": {"field": "xf", "type": "quantitative", "scale": {"domain": [0, 1], "nice": false, "zero": false}, "axis": null}, "y": {"field": "yv", "type": "quantitative", "title": null}, "text": {"field": "t"}}}
 ]}
]
}
